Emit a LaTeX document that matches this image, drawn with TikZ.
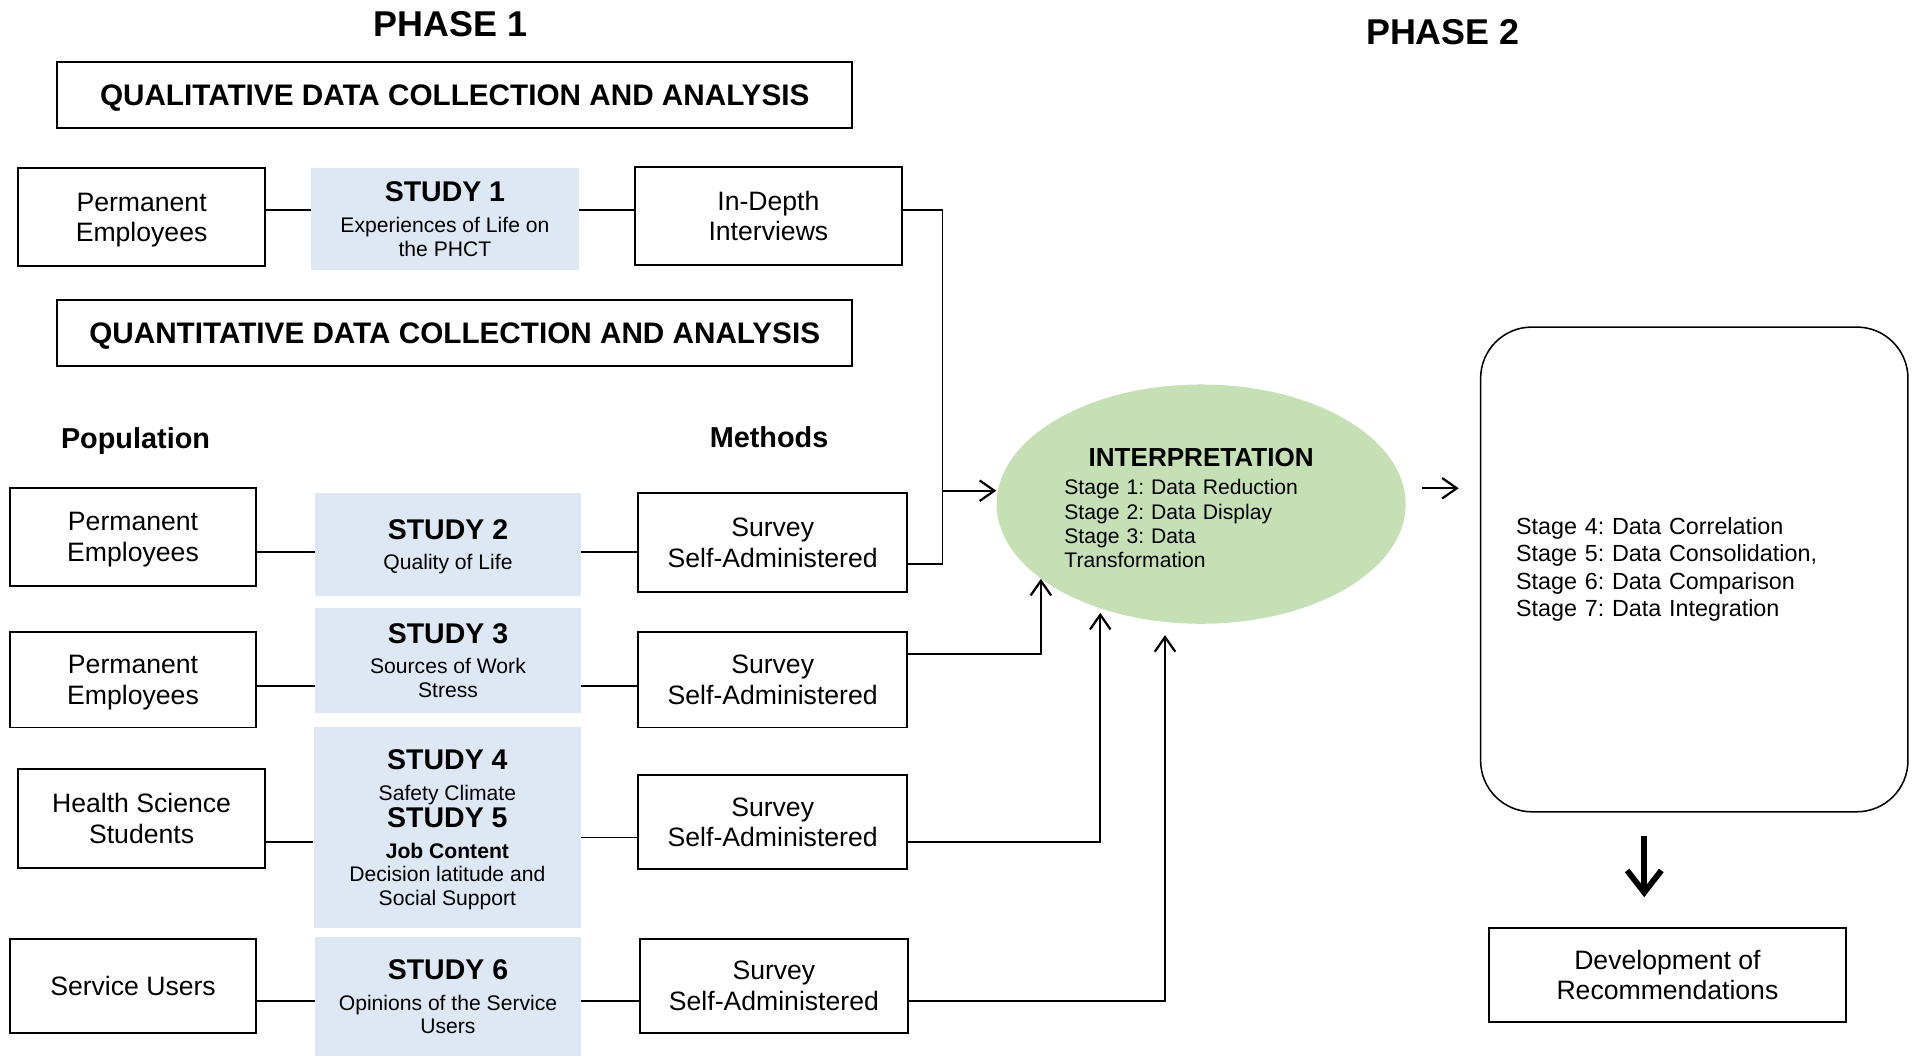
\documentclass[tikz,border=0pt]{standalone}
\usepackage{fontspec}
\setmainfont{Liberation Sans}
\frenchspacing
\usetikzlibrary{arrows.meta,shapes.geometric}
\definecolor{studybg}{HTML}{DDE8F4}
\definecolor{interpbg}{HTML}{C5E0B4}
\newcommand{\fs}[2]{\fontsize{#1}{#2}\selectfont}
\newcommand{\stitle}[1]{{\fs{16.6}{19}\bfseries #1}\\[4pt]}

\begin{document}
\begin{tikzpicture}[
    x=0.025cm, y=-0.025cm,
    font=\fs{15.5}{17.8},
    pop/.style={draw,line width=1.1pt,minimum width=5.05cm,minimum height=2cm,
                align=center,inner sep=2pt,text depth=0pt},
    meth/.style={pop,minimum width=5.5cm},
    study/.style={fill=studybg,minimum width=5.45cm,align=center,inner sep=0pt,
                  text depth=-4pt,font=\fs{12.3}{13.8}},
    hdr/.style={draw,line width=1.1pt,minimum width=16.275cm,minimum height=1.35cm,
                text depth=-4pt,font=\fs{17.3}{20}\bfseries},
    title/.style={font=\fs{20.9}{24}\bfseries},
    colhead/.style={font=\fs{16.8}{20}\bfseries},
    link/.style={line width=0.9pt},
    arr/.style={line width=1.3pt,-{Straight Barb[length=3mm,width=4.2mm]}},
    bigarr/.style={line width=3.4pt,-{Straight Barb[length=4.5mm,width=7mm]}}
  ]
  \useasboundingbox (0,0) rectangle (1568,865);

  % headings
  \node[title] (ph1) at (369,20) {PHASE 1};
  \node[title] (ph2) at (1182,26) {PHASE 2};
  \node[hdr] (qual) at (372.5,78) {QUALITATIVE DATA COLLECTION AND ANALYSIS};
  \node[hdr] (quant) at (372.5,273) {QUANTITATIVE DATA COLLECTION AND ANALYSIS};
  \node[colhead] (popH) at (111,361) {Population};
  \node[colhead] (methH) at (630,358) {Methods};

  % population
  \node[pop] (pop1) at (116,178) {Permanent\\Employees};
  \node[pop] (pop2) at (109,440) {Permanent\\Employees};
  \node[pop,minimum height=1.95cm] (pop3) at (109,557) {Permanent\\Employees};
  \node[pop,minimum height=2.025cm] (pop4) at (116,670.5) {Health Science\\Students};
  \node[pop,minimum height=1.925cm] (pop5) at (109,807.5) {Service Users};

  % studies
  \node[study,minimum width=5.475cm,minimum height=2.075cm] (st1) at (364.5,179.5)
    {\stitle{STUDY 1}Experiences of Life on\\the PHCT};
  \node[study,minimum height=2.1cm] (st2) at (367,446)
    {\stitle{STUDY 2}Quality of Life};
  \node[study,minimum height=2.15cm] (st3) at (367,541)
    {\stitle{STUDY 3}Sources of Work\\Stress};
  \node[study,minimum width=5.475cm,minimum height=4.1cm] (st45) at (366.5,678)
    {\stitle{STUDY 4}Safety Climate\\[1pt]\stitle{STUDY 5}\textbf{Job Content}\\
     Decision latitude and\\Social Support};
  \node[study,minimum height=2.425cm] (st6) at (367,816.5)
    {\stitle{STUDY 6}Opinions of the Service\\Users};

  % methods
  \node[meth,minimum width=5.475cm] (me1) at (629.5,177) {In-Depth\\Interviews};
  \node[meth,minimum height=2.025cm] (me2) at (633,444.5) {Survey\\Self-Administered};
  \node[meth,minimum height=1.95cm] (me3) at (633,557) {Survey\\Self-Administered};
  \node[meth,minimum height=1.925cm] (me4) at (633,673.5) {Survey\\Self-Administered};
  \node[meth,minimum height=1.925cm] (me5) at (634,807.5) {Survey\\Self-Administered};

  % phase 2
  \node[ellipse,fill=interpbg,minimum width=8.375cm,minimum height=4.9cm,
        text width=5.6cm,align=left,font=\fs{12.3}{14.2}] (interp) at (984,413)
    {{\centering\fs{15.2}{17}\bfseries\rule{0pt}{15pt}INTERPRETATION\par}\vspace{2.5pt}
     Stage 1: Data Reduction\\Stage 2: Data Display\\Stage 3: Data\\Transformation};
  \node[draw,line width=0.9pt,rounded corners=1.05cm,minimum width=8.75cm,
        minimum height=9.925cm,text width=7.3cm,align=left,inner xsep=0.725cm,
        font=\fs{13.6}{16}] (stages) at (1388,466.5)
    {Stage 4: Data Correlation\\Stage 5: Data Consolidation,\\
     Stage 6: Data Comparison\\Stage 7: Data Integration};
  \node[pop,minimum width=7.3cm,minimum height=1.925cm] (recom) at (1366,798.5)
    {Development of\\Recommendations};

  % row heights of the links
  \coordinate (r1) at (0,172);
  \coordinate (r2) at (0,452);
  \coordinate (r2o) at (0,462);
  \coordinate (r3) at (0,562);
  \coordinate (r3o) at (0,536);
  \coordinate (r4) at (0,690);
  \coordinate (r4m) at (0,686);
  \coordinate (r5) at (0,820);

  % population -- study -- method
  \draw[link] (pop1.east |- r1) -- (st1.west |- r1);
  \draw[link] (st1.east |- r1) -- (me1.west |- r1);
  \draw[link] (pop2.east |- r2) -- (st2.west |- r2);
  \draw[link] (st2.east |- r2) -- (me2.west |- r2);
  \draw[link] (pop3.east |- r3) -- (st3.west |- r3);
  \draw[link] (st3.east |- r3) -- (me3.west |- r3);
  \draw[link] (pop4.east |- r4) -- (st45.west |- r4);
  \draw[link] (st45.east |- r4m) -- (me4.west |- r4m);
  \draw[link] (pop5.east |- r5) -- (st6.west |- r5);
  \draw[link] (st6.east |- r5) -- (me5.west |- r5);

  % into interpretation
  \coordinate (j1) at (772,402);
  \draw[link] (me1.east |- r1) -| (j1) |- (me2.east |- r2o);
  \draw[arr] (j1) -- (j1 -| interp.west);
  \draw[arr] (me3.east |- r3o) -| (interp.205);
  \draw[arr,shorten >=2.5pt] (me4.east |- r4) -| (interp.226);
  \draw[arr,shorten >=7.5pt] (me5.east |- r5) -| (interp.253);

  % onwards
  \coordinate (o1) at (1165,400);
  \coordinate (o2) at (1195,400);
  \draw[arr] (o1) -- (o2);
  \coordinate (d1) at (1347,685);
  \coordinate (d2) at (1347,735);
  \draw[bigarr] (d1) -- (d2);

\end{tikzpicture}
\end{document}
